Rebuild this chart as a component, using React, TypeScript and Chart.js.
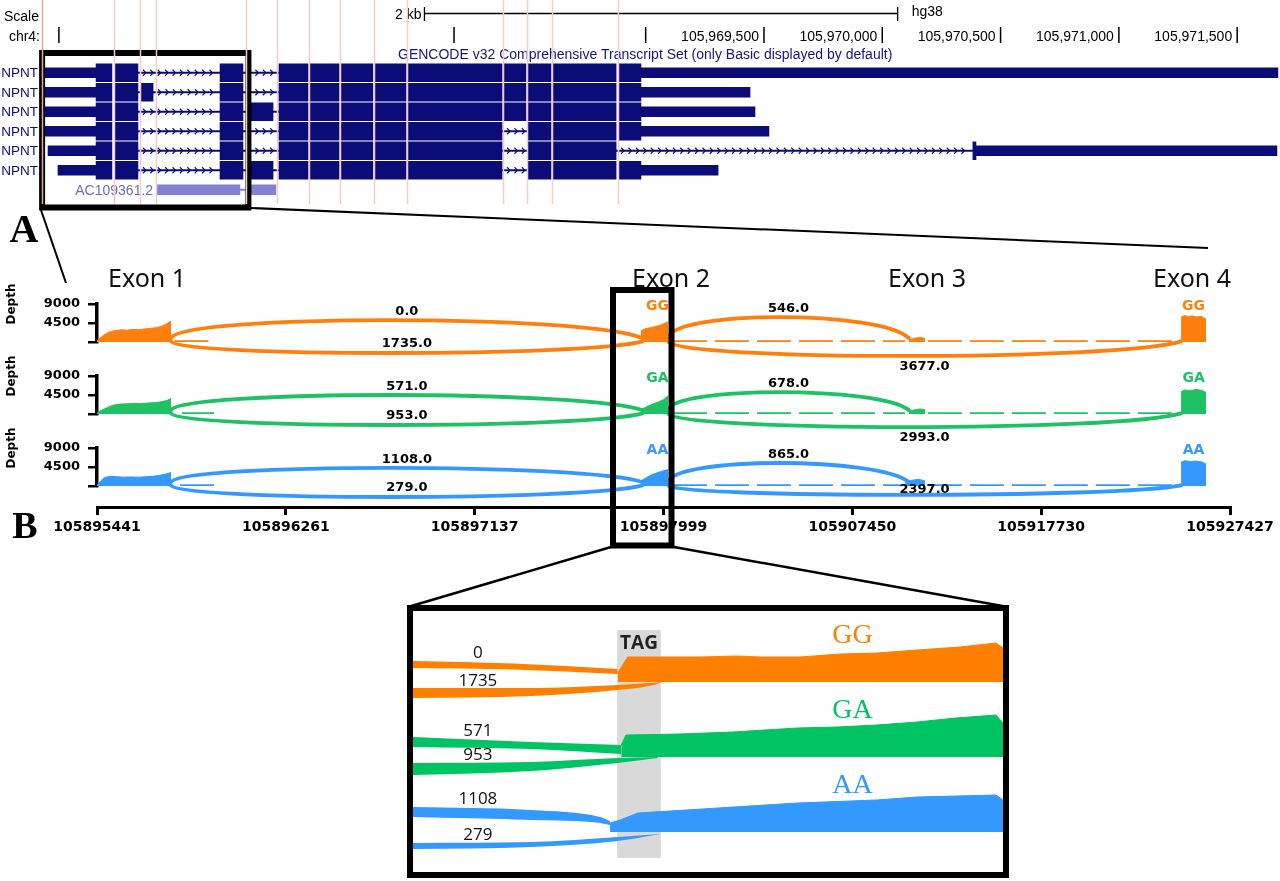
import React, { useEffect, useRef } from 'react';
import { Chart, registerables } from 'chart.js';

Chart.register(...registerables);

type Seg = [number, number];
type Pt = [number, number | null];

// ================= Panel A : genome browser (chr4, hg38) =================
const TOP_MIN = 105966271;
const TOP_MAX = 105971681;
const ROW_IDS = ['t1', 't2', 't3', 't4', 't5', 't6', 'ac'];
const ROW_NAMES = ['NPNT', 'NPNT', 'NPNT', 'NPNT', 'NPNT', 'NPNT', 'AC109361.2'];
const LABELED_TICKS = [105969500, 105970000, 105970500, 105971000, 105971500];
const UNLABELED_TICKS = [105966520, 105968190, 105969000];
const SCALE_BAR: Seg = [105968065, 105970065];
const ZOOM_REGION: Seg = [105966449, 105967321];
const HIGHLIGHT_LINES = [
  105966449, 105966753, 105966863, 105966930, 105967311, 105967442, 105967577,
  105967708, 105967852, 105967991, 105968397, 105968498, 105968604, 105968883,
];

const E1A: Seg = [105966677, 105966744];
const E1B: Seg = [105966757, 105966854];
const ALT2: Seg = [105966867, 105966918];
const E2: Seg = [105967201, 105967298];
const ALT3: Seg = [105967328, 105967425];
const E3: Seg = [105967450, 105967573];
const E4: Seg = [105967581, 105967704];
const E5: Seg = [105967712, 105967847];
const E6: Seg = [105967856, 105967987];
const E7: Seg = [105967995, 105968393];
const E8: Seg = [105968401, 105968494];
const E9: Seg = [105968503, 105968600];
const E10: Seg = [105968608, 105968875];
const E11: Seg = [105968887, 105968980];
const CDS_END5: Seg = [105970383, 105970396];

const CDS_ROWS: Seg[][] = [
  [E1A, E1B, E2, E3, E4, E5, E6, E7, E8, E9, E10, E11],
  [E1A, E1B, ALT2, E2, E3, E4, E5, E6, E7, E8, E9, E10, E11],
  [E1A, E1B, E2, ALT3, E3, E4, E5, E6, E7, E8, E9, E10, E11],
  [E1A, E1B, E2, E3, E4, E5, E6, E7, E9, E10, E11],
  [E1A, E1B, E2, E3, E4, E5, E6, E7, E9, E10, CDS_END5],
  [E1A, E1B, E2, ALT3, E3, E4, E5, E6, E7, E9, E10, E11],
];
const UTR_ROWS: Seg[][] = [
  [[105966461, 105966677], [105968980, 105971672]],
  [[105966461, 105966677], [105968980, 105969441]],
  [[105966461, 105966677], [105968980, 105969462]],
  [[105966461, 105966677], [105968980, 105969521]],
  [[105966474, 105966677], [105970396, 105971668]],
  [[105966516, 105966677], [105968980, 105969306]],
];
const INTRON_ROWS: Seg[][] = [
  [[105966854, 105967201], [105967298, 105967450]],
  [[105966854, 105966867], [105966918, 105967201], [105967298, 105967450]],
  [[105966854, 105967201], [105967298, 105967328], [105967425, 105967450]],
  [[105966854, 105967201], [105967298, 105967450], [105968393, 105968503]],
  [[105966854, 105967201], [105967298, 105967450], [105968393, 105968503], [105968875, 105970383]],
  [[105966854, 105967201], [105967298, 105967328], [105967425, 105967450], [105968393, 105968503]],
];
const AC_BLOCKS: Seg[] = [[105966935, 105967285], [105967311, 105967437]];
const AC_INTRONS: Seg[] = [[105967285, 105967311]];

// ================= Panel B : sashimi plot =================
const SASHIMI_TICK_LABELS = ['105895441', '105896261', '105897137', '105897999', '105907450', '105917730', '105927427'];
const SAMPLE_NAMES = ['GG', 'GA', 'AA'];
const EXON_SPANS: Seg[] = [[0, 0.392], [2.88, 3.024], [4.295, 4.385], [5.741, 5.873]];
const JUNC_FROM = [0.392, 0.392, 3.024, 3.024];
const JUNC_TO = [2.89, 2.89, 4.3, 5.741];

const GG_JUNC_READS = [0, 1735, 546, 3677];
const GA_JUNC_READS = [571, 953, 678, 2993];
const AA_JUNC_READS = [1108, 279, 865, 2397];
const GG_JUNC_PEAK = [5200, -2600, 5900, -3300];
const GA_JUNC_PEAK = [4500, -2600, 5200, -3100];
const AA_JUNC_PEAK = [4300, -2600, 5450, -2100];

const GG_COVERAGE: Pt[] = [
  [0, 300], [0.02, 1100], [0.045, 1900], [0.07, 2500], [0.1, 2700], [0.13, 2900], [0.16, 2800], [0.19, 3000],
  [0.22, 2900], [0.25, 3100], [0.28, 3200], [0.31, 3400], [0.34, 3700], [0.365, 4200], [0.385, 4800], [0.392, 4900],
  [0.393, null],
  [2.88, 2600], [2.9, 3100], [2.93, 3400], [2.96, 3700], [2.99, 4100], [3.01, 4500], [3.024, 4800],
  [3.03, null],
  [4.3, 500], [4.33, 900], [4.36, 1100], [4.385, 800],
  [4.39, null],
  [5.741, 5900], [5.76, 6300], [5.78, 6000], [5.8, 6200], [5.82, 5900], [5.845, 6100], [5.86, 5800], [5.873, 5400],
];
const GA_COVERAGE: Pt[] = [
  [0, 200], [0.02, 800], [0.05, 1400], [0.08, 2000], [0.11, 2300], [0.15, 2400], [0.19, 2500], [0.23, 2450],
  [0.27, 2600], [0.31, 2700], [0.34, 2900], [0.37, 3200], [0.392, 3700],
  [0.393, null],
  [2.88, 1000], [2.91, 1700], [2.94, 2300], [2.97, 2800], [3.0, 3400], [3.024, 4300],
  [3.03, null],
  [4.3, 600], [4.33, 1000], [4.36, 1200], [4.385, 1000],
  [4.39, null],
  [5.741, 5300], [5.76, 5700], [5.79, 5500], [5.82, 5800], [5.85, 5600], [5.873, 5100],
];
const AA_COVERAGE: Pt[] = [
  [0, 300], [0.02, 1200], [0.04, 2000], [0.07, 2300], [0.1, 2200], [0.14, 2100], [0.18, 2150], [0.22, 2100],
  [0.26, 2200], [0.3, 2300], [0.34, 2600], [0.37, 2900], [0.392, 3200],
  [0.393, null],
  [2.88, 1200], [2.91, 2000], [2.94, 2700], [2.97, 3200], [3.0, 3600], [3.024, 3900],
  [3.03, null],
  [4.28, 700], [4.31, 1300], [4.35, 1600], [4.385, 1200],
  [4.39, null],
  [5.741, 5600], [5.76, 6000], [5.79, 5800], [5.82, 5900], [5.85, 5700], [5.873, 5200],
];
const GG_LOW_COVERAGE: Pt[] = [[0.41, 200], [0.62, 200], [0.63, null], [3.05, 200], [4.28, 200], [4.29, null], [4.4, 200], [5.73, 200]];
const GA_LOW_COVERAGE: Pt[] = [[0.45, 200], [0.62, 200], [0.63, null], [3.05, 200], [4.28, 200], [4.29, null], [4.4, 200], [5.73, 200]];
const AA_LOW_COVERAGE: Pt[] = [[0.44, 200], [0.65, 200], [0.66, null], [3.05, 200], [4.28, 200], [4.29, null], [4.4, 200], [5.73, 200]];

// ================= Inset : zoom on the TAG site of exon 2 =================
const INSET_TAG: Seg = [34.6, 42.0];
const GG_INSET_COVERAGE: Pt[] = [[34.7, 9], [36.4, 25], [48.6, 25], [55, 26], [58.8, 25], [65.6, 25], [72.4, 28], [78.6, 29], [85.4, 32], [92.7, 35], [98.8, 39], [100, 34]];
const GA_INSET_COVERAGE: Pt[] = [[35.3, 12], [36.1, 22], [45.1, 23], [54.2, 25], [65.1, 29], [71.9, 30], [78.6, 32], [85.4, 35], [92, 39], [98.8, 42], [100, 34]];
const AA_INSET_COVERAGE: Pt[] = [[33.4, 9], [35.1, 12], [38.1, 19], [51.7, 24], [65.1, 29], [78.6, 32], [85.4, 35], [98.8, 37], [100, 32]];
const GG_RIBBON0_TOP: Pt[] = [[0, 21], [17, 18.5], [34.7, 13]];
const GG_RIBBON0_BOTTOM: Pt[] = [[0, 14], [17, 12.5], [34.7, 8]];
const GG_RIBBON1_TOP: Pt[] = [[0, -6], [20, -6], [34.7, -3], [40, -1], [42.4, 0]];
const GG_RIBBON1_BOTTOM: Pt[] = [[0, -16], [20, -14], [34.7, -8], [40, -4], [42.4, 0]];
const GA_RIBBON0_TOP: Pt[] = [[0, 20], [20, 15], [35.3, 12]];
const GA_RIBBON0_BOTTOM: Pt[] = [[0, 10], [20, 8], [35.3, 3]];
const GA_RIBBON1_TOP: Pt[] = [[0, -6], [20, -5], [34.7, -1], [41.5, 0]];
const GA_RIBBON1_BOTTOM: Pt[] = [[0, -18], [20, -14], [34.7, -6], [41.5, -1]];
const AA_RIBBON0_TOP: Pt[] = [[0, 25], [20, 22], [31.7, 15], [33.4, 11]];
const AA_RIBBON0_BOTTOM: Pt[] = [[0, 15], [20, 12], [31.7, 9], [33.4, 7]];
const AA_RIBBON1_TOP: Pt[] = [[0, -11], [20, -10], [34.7, -5], [42, -2]];
const AA_RIBBON1_BOTTOM: Pt[] = [[0, -17], [20, -15], [34.7, -9], [42, -2]];

// ================= styles / layout =================
const NAVY = '#0c0c78';
const SAMPLE_COLORS = ['#ff7f0e', '#1ec265', '#3399ff'];
const INSET_COLORS = ['#ff7f00', '#00c464', '#3399ff'];
const TRACK_TOP = [304, 376, 448];
const LABEL_PLACE = [
  ['above', 'inside', 'above', 'below'],
  ['above', 'inside', 'above', 'below'],
  ['above', 'inside', 'above', 'on'],
];
const JUNC_READS = [GG_JUNC_READS, GA_JUNC_READS, AA_JUNC_READS];
const JUNC_PEAKS = [GG_JUNC_PEAK, GA_JUNC_PEAK, AA_JUNC_PEAK];
const COVERAGES = [GG_COVERAGE, GA_COVERAGE, AA_COVERAGE];
const LOW_COVERAGES = [GG_LOW_COVERAGE, GA_LOW_COVERAGE, AA_LOW_COVERAGE];
const INSET_COVERAGES = [GG_INSET_COVERAGE, GA_INSET_COVERAGE, AA_INSET_COVERAGE];
const INSET_RIBBONS = [
  [[GG_RIBBON0_TOP, GG_RIBBON0_BOTTOM], [GG_RIBBON1_TOP, GG_RIBBON1_BOTTOM]],
  [[GA_RIBBON0_TOP, GA_RIBBON0_BOTTOM], [GA_RIBBON1_TOP, GA_RIBBON1_BOTTOM]],
  [[AA_RIBBON0_TOP, AA_RIBBON0_BOTTOM], [AA_RIBBON1_TOP, AA_RIBBON1_BOTTOM]],
];
const INSET_AXES = ['yGG', 'yGA', 'yAA'];

const pts = (a: Pt[]) => a.map(([x, y]) => ({ x, y }));
function interp(a: Pt[], x: number) {
  for (let i = 0; i < a.length - 1; i++) {
    const [x0, y0] = a[i];
    const [x1, y1] = a[i + 1];
    if (x >= x0 && x <= x1) return (y0 as number) + (((y1 as number) - (y0 as number)) * (x - x0)) / (x1 - x0);
  }
  return a[0][1] as number;
}

// ---------------- configs ----------------
function makeTopConfig(): any {
  const toBars = (rows: Seg[][]) => rows.flatMap((segs, i) => segs.map((s) => ({ x: s, y: ROW_IDS[i] })));
  const common = { grouped: false, categoryPercentage: 1, barPercentage: 1, borderWidth: 0, borderSkipped: false };
  const plugin = {
    id: 'browser',
    afterDatasetsDraw(chart: any) {
      const { ctx, scales } = chart;
      const x = scales.x;
      const y = scales.y;
      const px = (v: number) => x.getPixelForValue(v);
      ctx.save();
      // intron chevrons
      ctx.strokeStyle = NAVY;
      ctx.lineWidth = 1.1;
      INTRON_ROWS.forEach((segs, r) => {
        const cy = y.getPixelForValue(r);
        segs.forEach(([s, e]) => {
          const a = px(s);
          const b = px(e);
          if (b - a < 12) return;
          for (let cx = a + 8; cx < b - 2; cx += 7.4) {
            ctx.beginPath();
            ctx.moveTo(cx - 3, cy - 3);
            ctx.lineTo(cx, cy);
            ctx.lineTo(cx - 3, cy + 3);
            ctx.stroke();
          }
        });
      });
      // row labels
      ctx.textBaseline = 'middle';
      ctx.textAlign = 'right';
      ROW_NAMES.forEach((name, r) => {
        const cy = y.getPixelForValue(r);
        if (ROW_IDS[r] === 'ac') {
          ctx.font = '14px "Liberation Sans", Arial, sans-serif';
          ctx.fillStyle = '#6e6eae';
          ctx.fillText(name, px(AC_BLOCKS[0][0]) - 4, cy + 1);
        } else {
          ctx.font = '13.5px "Liberation Sans", Arial, sans-serif';
          ctx.fillStyle = NAVY;
          ctx.fillText(name, 38, cy + 1);
        }
      });
      // ruler
      ctx.fillStyle = '#000';
      ctx.strokeStyle = '#000';
      ctx.font = '14px "Liberation Sans", Arial, sans-serif';
      ctx.textAlign = 'left';
      ctx.fillText('Scale', 4, 17);
      ctx.textAlign = 'right';
      ctx.fillText('chr4:', 40, 37);
      ctx.lineWidth = 1.5;
      UNLABELED_TICKS.forEach((t) => {
        ctx.beginPath();
        ctx.moveTo(px(t), 27);
        ctx.lineTo(px(t), 43);
        ctx.stroke();
      });
      LABELED_TICKS.forEach((t) => {
        ctx.beginPath();
        ctx.moveTo(px(t), 27);
        ctx.lineTo(px(t), 43);
        ctx.stroke();
        ctx.fillText(t.toLocaleString('en-US'), px(t) - 5, 37);
      });
      const sb0 = px(SCALE_BAR[0]);
      const sb1 = px(SCALE_BAR[1]);
      ctx.lineWidth = 1.3;
      ctx.beginPath();
      ctx.moveTo(sb0, 13.5);
      ctx.lineTo(sb1, 13.5);
      ctx.moveTo(sb0, 7);
      ctx.lineTo(sb0, 21);
      ctx.moveTo(sb1, 7);
      ctx.lineTo(sb1, 21);
      ctx.stroke();
      ctx.fillText(`${(SCALE_BAR[1] - SCALE_BAR[0]) / 1000} kb`, sb0 - 3, 15);
      ctx.textAlign = 'left';
      ctx.fillText('hg38', sb1 + 14, 12);
      ctx.fillStyle = '#16167c';
      ctx.fillText('GENCODE v32 Comprehensive Transcript Set (only Basic displayed by default)', 398, 55);
      // zoom box
      ctx.strokeStyle = '#000';
      ctx.lineWidth = 6;
      ctx.strokeRect(px(ZOOM_REGION[0]), 53, px(ZOOM_REGION[1]) - px(ZOOM_REGION[0]), 154.5);
      // highlight lines
      HIGHLIGHT_LINES.forEach((v, i) => {
        ctx.strokeStyle = i === 0 ? '#e9a3a3' : '#f4caca';
        ctx.lineWidth = 1.5;
        ctx.beginPath();
        ctx.moveTo(Math.round(px(v)) + 0.5, 0);
        ctx.lineTo(Math.round(px(v)) + 0.5, 204);
        ctx.stroke();
      });
      ctx.restore();
    },
  };
  return {
    type: 'bar',
    data: {
      datasets: [
        { data: toBars(INTRON_ROWS), backgroundColor: NAVY, maxBarThickness: 1.3, ...common },
        { data: toBars(UTR_ROWS), backgroundColor: NAVY, maxBarThickness: 10, ...common },
        { data: toBars(CDS_ROWS), backgroundColor: NAVY, maxBarThickness: 18, ...common },
        { data: AC_INTRONS.map((s) => ({ x: s, y: 'ac' })), backgroundColor: '#8282d2', maxBarThickness: 1.5, ...common },
        { data: AC_BLOCKS.map((s) => ({ x: s, y: 'ac' })), backgroundColor: '#8282d2', maxBarThickness: 10, ...common },
      ],
    },
    options: {
      indexAxis: 'y',
      animation: false,
      responsive: false,
      events: [],
      layout: { padding: { top: 63, bottom: 15.5, left: 0, right: 0 } },
      plugins: { legend: { display: false }, tooltip: { enabled: false } },
      scales: {
        x: { type: 'linear', min: TOP_MIN, max: TOP_MAX, display: false },
        y: { type: 'category', labels: ROW_IDS, offset: true, display: false },
      },
    },
    plugins: [plugin],
  };
}

function makeTrackConfig(k: number): any {
  const color = SAMPLE_COLORS[k];
  const plugin = {
    id: 'sashimi' + k,
    afterDatasetsDraw(chart: any) {
      const { ctx, scales } = chart;
      const x = scales.x;
      const y = scales.y;
      const reads = JUNC_READS[k];
      const peaks = JUNC_PEAKS[k];
      const place = LABEL_PLACE[k];
      ctx.save();
      ctx.lineCap = 'round';
      for (let j = 0; j < JUNC_FROM.length; j++) {
        const x1 = x.getPixelForValue(JUNC_FROM[j]);
        const x2 = x.getPixelForValue(JUNC_TO[j]);
        const up = peaks[j] > 0;
        const y1 = y.getPixelForValue(up ? 900 : 150);
        const yp = y.getPixelForValue(peaks[j]);
        const yc = (yp - 0.25 * y1) / 0.75;
        const dx = x2 - x1;
        ctx.strokeStyle = color;
        ctx.lineWidth = 3.8;
        ctx.beginPath();
        ctx.moveTo(x1, y1);
        ctx.bezierCurveTo(x1 + 0.02 * dx, yc, x2 - 0.12 * dx, yc, x2, y1);
        ctx.stroke();
        let ly = yp - 8;
        if (place[j] === 'inside') ly = yp - 9;
        if (place[j] === 'below') ly = yp + 11;
        if (place[j] === 'on') ly = yp - 5;
        ctx.fillStyle = '#000';
        ctx.font = 'bold 13px "DejaVu Sans", sans-serif';
        ctx.textAlign = 'center';
        ctx.textBaseline = 'middle';
        ctx.fillText(reads[j].toFixed(1), (x1 + x2) / 2, ly);
      }
      // sample names over exon 2 and exon 4
      ctx.fillStyle = color;
      ctx.font = 'bold 14px "DejaVu Sans", sans-serif';
      [1, 3].forEach((e) => {
        const cx = x.getPixelForValue((EXON_SPANS[e][0] + EXON_SPANS[e][1]) / 2);
        ctx.fillText(SAMPLE_NAMES[k], cx + (e === 1 ? 3 : 0), y.getPixelForValue(9000) + 2);
      });
      // axis title
      ctx.fillStyle = '#000';
      ctx.font = 'bold 12px "DejaVu Sans", sans-serif';
      ctx.translate(12, y.getPixelForValue(9000));
      ctx.rotate(-Math.PI / 2);
      ctx.fillText('Depth', 0, 0);
      ctx.restore();
    },
  };
  return {
    type: 'line',
    data: {
      datasets: [
        {
          data: pts(COVERAGES[k]),
          borderColor: color,
          backgroundColor: color,
          fill: 'origin',
          borderWidth: 1,
          pointRadius: 0,
          tension: 0,
          spanGaps: false,
        },
        {
          data: pts(LOW_COVERAGES[k]),
          borderColor: color,
          borderWidth: 2,
          borderDash: [34, 8],
          pointRadius: 0,
          fill: false,
          spanGaps: false,
        },
      ],
    },
    options: {
      animation: false,
      responsive: false,
      events: [],
      layout: { padding: { top: 30, bottom: 32, left: 0, right: 50 } },
      plugins: { legend: { display: false }, tooltip: { enabled: false } },
      scales: {
        x: { type: 'linear', min: 0, max: 6, display: false },
        y: {
          type: 'linear',
          min: 0,
          max: 9000,
          afterFit: (s: any) => {
            s.width = 97;
          },
          ticks: {
            stepSize: 4500,
            autoSkip: false,
            callback: (v: any) => (v === 0 ? '' : String(v)),
            font: { family: 'DejaVu Sans', weight: 'bold', size: 13 },
            color: '#000',
            padding: 8,
          },
          grid: { drawOnChartArea: false, tickLength: 9, color: '#000', lineWidth: 2.5 },
          border: { display: true, color: '#000', width: 3.5 },
        },
      },
    },
    plugins: [plugin],
  };
}

function makeAxisConfig(): any {
  return {
    type: 'line',
    data: { datasets: [] },
    options: {
      animation: false,
      responsive: false,
      events: [],
      layout: { padding: { top: 0, bottom: 0, left: 97, right: 50 } },
      plugins: { legend: { display: false }, tooltip: { enabled: false } },
      scales: {
        x: {
          type: 'linear',
          min: 0,
          max: 6,
          position: 'bottom',
          afterFit: (s: any) => {
            s.height = 43;
          },
          ticks: {
            stepSize: 1,
            autoSkip: false,
            maxRotation: 0,
            callback: (v: any) => SASHIMI_TICK_LABELS[Math.round(v)] ?? '',
            font: { family: 'DejaVu Sans', weight: 'bold', size: 14 },
            color: '#000',
            padding: 4,
          },
          grid: { drawOnChartArea: false, tickLength: 8, color: '#000', lineWidth: 3 },
          border: { display: true, color: '#000', width: 3 },
        },
        y: { display: false, min: 0, max: 1 },
      },
    },
  };
}

function makeInsetConfig(): any {
  const datasets: any[] = [];
  INSET_COLORS.forEach((color, k) => {
    INSET_RIBBONS[k].forEach(([top, bottom]) => {
      datasets.push({
        data: pts(top), yAxisID: INSET_AXES[k], borderWidth: 0, pointRadius: 0, fill: false,
        cubicInterpolationMode: 'monotone', borderColor: color,
      });
      datasets.push({
        data: pts(bottom), yAxisID: INSET_AXES[k], borderWidth: 0, pointRadius: 0, fill: '-1',
        backgroundColor: color, cubicInterpolationMode: 'monotone', borderColor: color,
      });
    });
    datasets.push({
      data: pts(INSET_COVERAGES[k]), yAxisID: INSET_AXES[k], borderWidth: 1, pointRadius: 0,
      fill: 'origin', backgroundColor: color, borderColor: color, tension: 0,
    });
  });
  const plugin = {
    id: 'inset',
    beforeDatasetsDraw(chart: any) {
      const { ctx, scales } = chart;
      const a = scales.x.getPixelForValue(INSET_TAG[0]);
      const b = scales.x.getPixelForValue(INSET_TAG[1]);
      ctx.save();
      ctx.fillStyle = '#d9d9d9';
      ctx.fillRect(a, 19, b - a, 228);
      ctx.restore();
    },
    afterDatasetsDraw(chart: any) {
      const { ctx, scales } = chart;
      const x = scales.x;
      ctx.save();
      ctx.textAlign = 'center';
      ctx.textBaseline = 'middle';
      ctx.fillStyle = '#222';
      ctx.font = 'bold 19px "Open Sans", "DejaVu Sans", sans-serif';
      ctx.fillText('TAG', (x.getPixelForValue(INSET_TAG[0]) + x.getPixelForValue(INSET_TAG[1])) / 2, 33);
      INSET_COLORS.forEach((color, k) => {
        const ys = scales[INSET_AXES[k]];
        const [[top0], [top1]] = INSET_RIBBONS[k];
        ctx.fillStyle = '#111';
        ctx.font = '17px "Open Sans", "Noto Sans", sans-serif';
        ctx.fillText(String(JUNC_READS[k][0]), x.getPixelForValue(11), ys.getPixelForValue(interp(top0, 11) + 9));
        ctx.fillText(String(JUNC_READS[k][1]), x.getPixelForValue(11), ys.getPixelForValue(interp(top1, 11) + 7));
        ctx.fillStyle = color;
        ctx.font = '28px "Liberation Serif", "DejaVu Serif", serif';
        ctx.fillText(SAMPLE_NAMES[k], x.getPixelForValue(74.5), ys.getPixelForValue(46));
      });
      ctx.restore();
    },
  };
  return {
    type: 'line',
    data: { datasets },
    options: {
      animation: false,
      responsive: false,
      events: [],
      layout: { padding: 0 },
      plugins: { legend: { display: false }, tooltip: { enabled: false } },
      scales: {
        x: { type: 'linear', min: 0, max: 100, display: false },
        yGG: { type: 'linear', min: -190, max: 71, display: false },
        yGA: { type: 'linear', min: -115, max: 146, display: false },
        yAA: { type: 'linear', min: -40, max: 221, display: false },
      },
    },
    plugins: [plugin],
  };
}

// ---------------- components ----------------
function ChartCanvas(props: { left: number; top: number; width: number; height: number; make: () => any }) {
  const ref = useRef<HTMLCanvasElement>(null);
  useEffect(() => {
    const chart = new Chart(ref.current as HTMLCanvasElement, props.make());
    return () => chart.destroy();
  }, []);
  return (
    <canvas
      ref={ref}
      width={props.width}
      height={props.height}
      style={{ position: 'absolute', left: props.left, top: props.top, width: props.width, height: props.height }}
    />
  );
}

function Overlay() {
  const exonLabels = [
    { t: 'Exon 1', x: 108 },
    { t: 'Exon 2', x: 632 },
    { t: 'Exon 3', x: 888 },
    { t: 'Exon 4', x: 1153 },
  ];
  return (
    <svg width={1280} height={881} style={{ position: 'absolute', left: 0, top: 0, pointerEvents: 'none' }}>
      <line x1={41} y1={210} x2={66} y2={283} stroke="#000" strokeWidth={2} />
      <line x1={251} y1={208} x2={1208} y2={248} stroke="#000" strokeWidth={2} />
      <rect x={613} y={290} width={58.5} height={255.5} fill="none" stroke="#000" strokeWidth={6} />
      <line x1={611} y1={547} x2={408} y2={607} stroke="#000" strokeWidth={2.5} />
      <line x1={674} y1={547} x2={1008} y2={607} stroke="#000" strokeWidth={2.5} />
      <rect x={410} y={608} width={596} height={267} fill="none" stroke="#000" strokeWidth={6} />
      <text x={24} y={228} fontFamily='"Liberation Serif", serif' fontWeight="bold" fontSize={40} textAnchor="middle" dominantBaseline="central">A</text>
      <text x={25} y={525} fontFamily='"Liberation Serif", serif' fontWeight="bold" fontSize={38} textAnchor="middle" dominantBaseline="central">B</text>
      {exonLabels.map((e) => (
        <text key={e.t} x={e.x} y={277} fontFamily='"Noto Sans", sans-serif' fontSize={25} fill="#111" dominantBaseline="central">
          {e.t}
        </text>
      ))}
    </svg>
  );
}

export default function App() {
  return (
    <div style={{ position: 'absolute', left: 0, top: 0, width: 1280, height: 881, background: '#fff', overflow: 'hidden' }}>
      <ChartCanvas left={0} top={0} width={1280} height={215} make={makeTopConfig} />
      {SAMPLE_NAMES.map((_, k) => (
        <ChartCanvas key={k} left={0} top={TRACK_TOP[k] - 30} width={1280} height={100} make={() => makeTrackConfig(k)} />
      ))}
      <ChartCanvas left={0} top={470} width={1280} height={80} make={makeAxisConfig} />
      <ChartCanvas left={413} top={611} width={590} height={261} make={makeInsetConfig} />
      <Overlay />
    </div>
  );
}
